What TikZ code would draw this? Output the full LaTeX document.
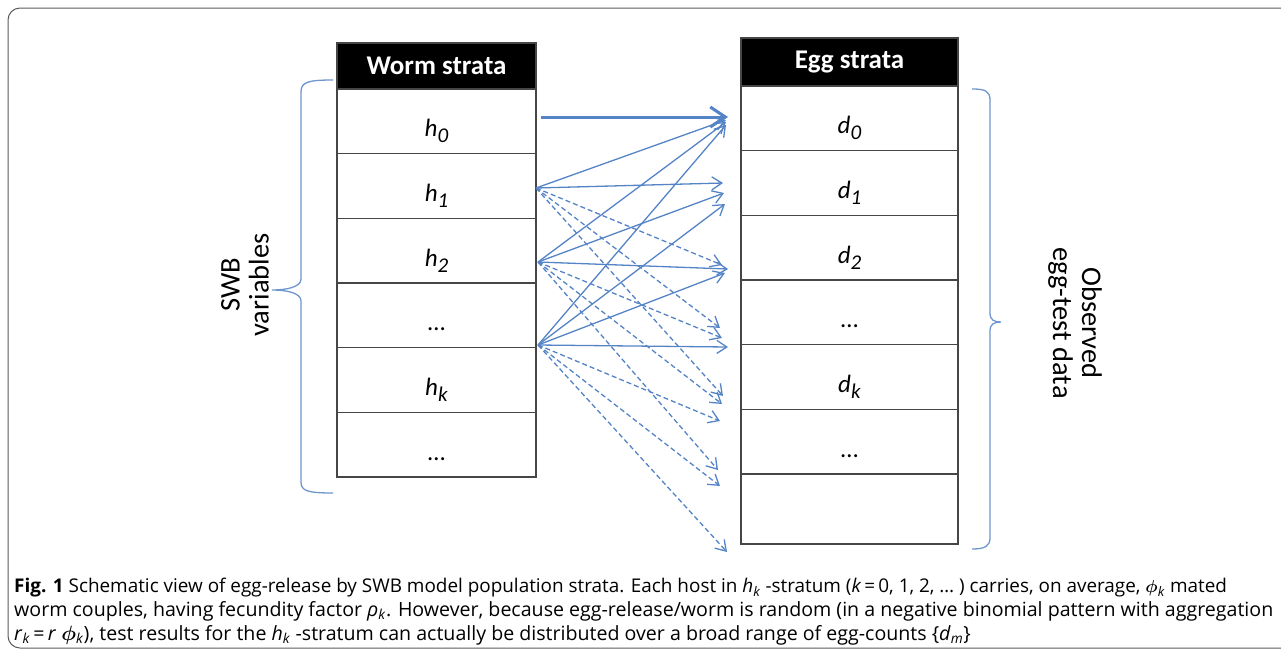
\documentclass[tikz,border=0pt]{standalone}
\usepackage{amsmath}
\usepackage{fontspec}
\setmainfont{Carlito}
\newfontfamily\capfont{Open Sans}
\usetikzlibrary{arrows.meta,calc}

\definecolor{lineblue}{RGB}{84,131,198}
\definecolor{framegray}{RGB}{90,90,90}
\definecolor{tablegray}{RGB}{70,70,70}

\newcommand{\lab}[2]{\textit{#1}\raisebox{-6pt}{\fontsize{21}{21}\selectfont\textit{#2}}}
\newcommand{\capsub}[1]{\textsubscript{\textit{#1}}}

\begin{document}
\begin{tikzpicture}[x=1pt,y=-1pt,
  hdr/.style={draw=tablegray, fill=black, text=white, line width=1.2pt, inner sep=0pt, outer sep=0pt,
    anchor=north west, font=\fontsize{27}{30}\selectfont\bfseries},
  cell/.style={draw=tablegray, line width=1.2pt, inner sep=0pt, outer sep=0pt, anchor=north west,
    minimum height=64.67pt, font=\fontsize{25}{28}\selectfont, text height=31pt, text depth=0pt},
  wcell/.style={cell, minimum width=199pt},
  ecell/.style={cell, minimum width=217pt},
  sol/.style={draw=lineblue, line width=1.3pt, -{Straight Barb[length=10pt,width=13pt,line width=1.3pt]}},
  dsh/.style={sol, dash pattern=on 5pt off 3pt},
  thick arrow/.style={draw=lineblue, line width=3pt, -{Straight Barb[length=15pt,width=20pt,line width=3pt]}},
  brace/.style={draw=lineblue!85, line width=1.3pt},
  side/.style={align=center, font=\fontsize{28.5}{29}\selectfont},
  capline/.style={anchor=base west, inner sep=0pt, font=\capfont\fontsize{19.6}{22}\selectfont}
]
\useasboundingbox (0,0) rectangle (1281,654);
\clip (0,0) rectangle (1281,654);
\draw[framegray, line width=1pt, rounded corners=12pt] (8,8) rectangle (1320,648);

% worm strata table
\node[hdr, minimum width=199pt, minimum height=46pt] (wh) at (337,43) {Worm strata};
\node[wcell] (h0) at (337,89) {\lab{h}{0}};
\node[wcell] (h1) at (337,153.67) {\lab{h}{1}};
\node[wcell] (h2) at (337,218.33) {\lab{h}{2}};
\node[wcell] (hd) at (337,283) {…};
\node[wcell] (hk) at (337,347.67) {\lab{h}{k}};
\node[wcell] (hd2) at (337,412.33) {…};

% egg strata table
\node[hdr, minimum width=217pt, minimum height=48pt] (eh) at (741,38) {Egg strata};
\node[ecell] (d0) at (741,86) {\lab{d}{0}};
\node[ecell] (d1) at (741,150.67) {\lab{d}{1}};
\node[ecell] (d2) at (741,215.33) {\lab{d}{2}};
\node[ecell] (dd) at (741,280) {…};
\node[ecell] (dk) at (741,344.67) {\lab{d}{k}};
\node[ecell] (dd2) at (741,409.33) {…};
\node[ecell, minimum height=70pt] (de) at (741,474) {};

% arrow ends
\coordinate (s0) at (541,117);
\coordinate (s1) at (536,188);
\coordinate (s2) at (538,262);
\coordinate (s3) at (538,345);
\coordinate (t0) at (728,117);
\coordinate (a1) at (726,120);
\coordinate (a2) at (723,183);
\coordinate (b1) at (726,122);
\coordinate (b2) at (724,193);
\coordinate (b3) at (728,269);
\coordinate (c1) at (726,125);
\coordinate (c2) at (725,204);
\coordinate (c3) at (725,273);
\coordinate (c4) at (728,347);
\coordinate (ea1) at (722,265);
\coordinate (ea2) at (720,328);
\coordinate (ea3) at (723,396);
\coordinate (eb1) at (722,338);
\coordinate (eb2) at (722,404);
\coordinate (eb3) at (718,470);
\coordinate (ec1) at (720,421);
\coordinate (ec2) at (720,486);
\coordinate (ec3) at (727,552);

\draw[thick arrow] (s0) -- (t0);
\draw[sol] (s1) -- (a1);
\draw[sol] (s1) -- (a2);
\draw[sol] (s2) -- (b1);
\draw[sol] (s2) -- (b2);
\draw[sol] (s2) -- (b3);
\draw[sol] (s3) -- (c1);
\draw[sol] (s3) -- (c2);
\draw[sol] (s3) -- (c3);
\draw[sol] (s3) -- (c4);
\draw[dsh] (s1) -- (ea1);
\draw[dsh] (s1) -- (ea2);
\draw[dsh] (s1) -- (ea3);
\draw[dsh] (s2) -- (eb1);
\draw[dsh] (s2) -- (eb2);
\draw[dsh] (s2) -- (eb3);
\draw[dsh] (s3) -- (ec1);
\draw[dsh] (s3) -- (ec2);
\draw[dsh] (s3) -- (ec3);

% braces
\draw[brace] (333,80) .. controls (308,80) and (301,82) .. (301,92) -- (301,279)
  .. controls (301,287) and (287,290) .. (272,290)
  .. controls (287,290) and (301,293) .. (301,301) -- (301,482)
  .. controls (301,491) and (308,493) .. (333,493);
\draw[brace] (972,89) .. controls (985,89) and (990,91) .. (990,100) -- (990,313)
  .. controls (990,320) and (994,322) .. (1001,322)
  .. controls (994,322) and (990,324) .. (990,331) -- (990,538)
  .. controls (990,546) and (985,549) .. (972,549);

% side labels
\node[side, rotate=90] (swb) at (245,285) {SWB\\variables};
\node[side, rotate=-90] (obs) at (1075,323) {Observed\\egg-test data};

% caption
\node[capline, font=\capfont\fontsize{18.9}{22}\selectfont] (cap1) at (14,592) {{\bfseries Fig. 1} Schematic view of egg-release by SWB model population strata. Each host in \textit{h}\capsub{k} -stratum (\textit{k}\,=\,0, 1, 2, … ) carries, on average, $\boldsymbol{\phi}$\capsub{k} mated};
\node[capline] (cap2) at (14,616) {worm couples, having fecundity factor \textit{ρ}\capsub{k}. However, because egg-release/worm is random (in a negative binomial pattern with aggregation};
\node[capline] (cap3) at (14,640) {\textit{r}\capsub{k}\,=\,\textit{r} $\boldsymbol{\phi}$\capsub{k}), test results for the \textit{h}\capsub{k} -stratum can actually be distributed over a broad range of egg-counts \{\textit{d}\capsub{m}\}};
\end{tikzpicture}
\end{document}
